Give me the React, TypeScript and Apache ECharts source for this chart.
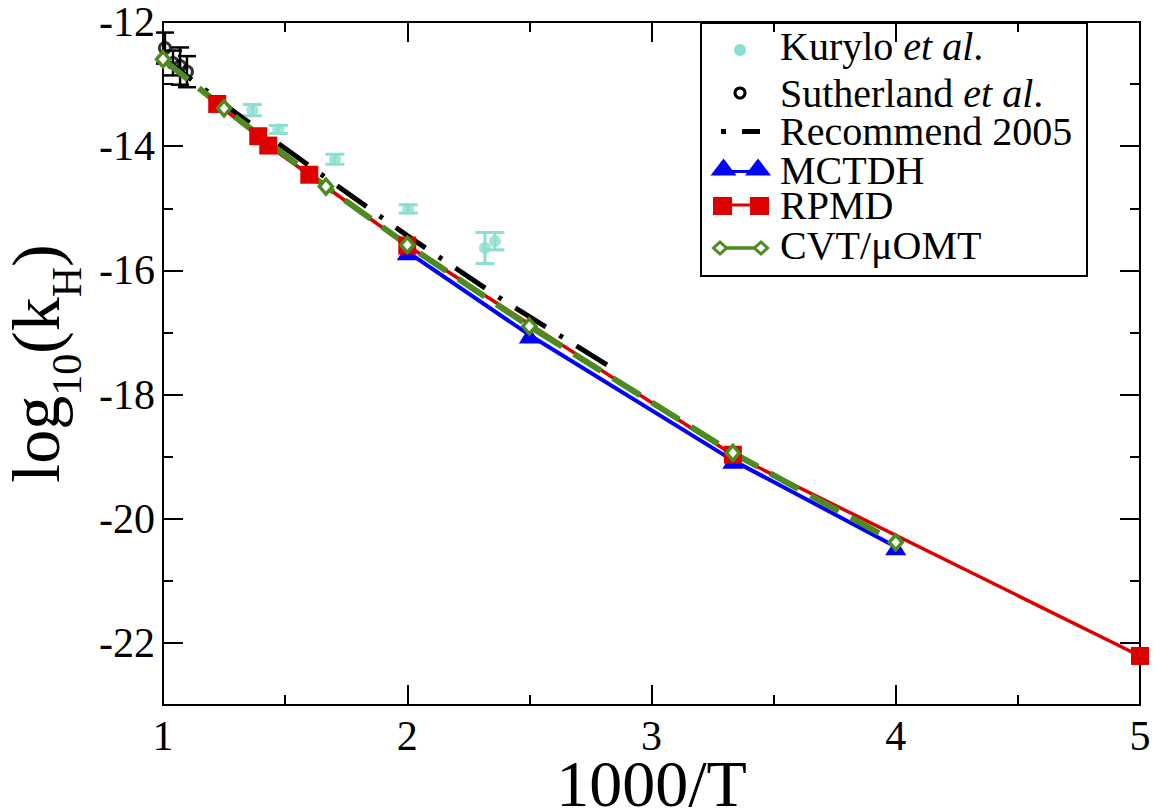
import React, { useEffect, useRef } from 'react';
import * as echarts from 'echarts';

const FONT = 'Liberation Serif, Times New Roman, serif';

// ---- data ----
const kuryloX = [1.366, 1.472, 1.704, 2.004, 2.318, 2.359];
const kuryloY = [-13.42, -13.73, -14.21, -15.01, -15.64, -15.53];
const kuryloErr = [0.09, 0.065, 0.08, 0.067, 0.25, 0.14];

const sutherlandX = [1.008, 1.041, 1.07, 1.098];
const sutherlandY = [-12.42, -12.66, -12.71, -12.8];
const sutherlandErr = [0.25, 0.2, 0.3, 0.25];

const recommendX = [1.0, 1.3, 1.6, 2.0, 2.4, 2.857];
const recommendY = [-12.58, -13.47, -14.32, -15.44, -16.5, -17.62];

const mctdhX = [2.0, 2.5, 3.333, 4.0];
const mctdhY = [-15.7, -17.04, -19.06, -20.45];

const rpmdX = [1.222, 1.39, 1.431, 1.599, 2.0, 3.333, 5.0];
const rpmdY = [-13.32, -13.84, -13.99, -14.46, -15.6, -18.97, -22.21];

const cvtX = [1.0, 1.25, 1.667, 2.0, 2.5, 3.333, 4.0];
const cvtY = [-12.6, -13.39, -14.65, -15.59, -16.9, -18.94, -20.38];

const yMajor = [-22, -20, -18, -16, -14, -12];
const yMinor = [-23, -21, -19, -17, -15, -13];

const KURYLO = '#8adfd0';
const BLUE = '#0000ff';
const RED = '#dd0000';
const GREEN = '#4b8b1f';

const zip = (xs: number[], ys: number[]) => xs.map((x, i) => [x, ys[i]]);

function errorSeries(name: string, xs: number[], ys: number[], errs: number[], color: string, capHalf: number, lw: number) {
  return {
    type: 'custom',
    name,
    silent: true,
    xAxisIndex: 0,
    yAxisIndex: 0,
    data: xs.map((x, i) => [x, ys[i] - errs[i], ys[i] + errs[i]]),
    encode: { x: 0, y: [1, 2] },
    renderItem: (params: any, api: any) => {
      const x = api.value(0);
      const p1 = api.coord([x, api.value(1)]);
      const p2 = api.coord([x, api.value(2)]);
      const style = { stroke: color, lineWidth: lw, fill: 'none' };
      return {
        type: 'group',
        children: [
          { type: 'line', shape: { x1: p1[0], y1: p1[1], x2: p2[0], y2: p2[1] }, style },
          { type: 'line', shape: { x1: p1[0] - capHalf, y1: p1[1], x2: p1[0] + capHalf, y2: p1[1] }, style },
          { type: 'line', shape: { x1: p2[0] - capHalf, y1: p2[1], x2: p2[0] + capHalf, y2: p2[1] }, style },
        ],
      };
    },
  };
}

const axisLineStyle = { color: '#000', width: 2 };

const etAlRich = {
  n: { fontSize: 40, lineHeight: 34, fontFamily: FONT, fill: '#000' },
  i: { fontSize: 40, lineHeight: 34, fontFamily: FONT, fontStyle: 'italic', fill: '#000' },
};

function legendText(x: number, y: number, text: string) {
  return {
    type: 'text',
    x,
    y,
    style: { text, verticalAlign: 'middle', align: 'left', rich: etAlRich },
  };
}

function buildOption() {
  const xBase = {
    type: 'value',
    min: 1,
    max: 5,
    interval: 1,
    axisLine: { show: true, onZero: false, lineStyle: axisLineStyle },
    axisTick: { show: true, inside: true, length: 20, lineStyle: axisLineStyle },
    minorTick: { show: true, splitNumber: 2, length: 10, lineStyle: axisLineStyle },
    splitLine: { show: false },
    minorSplitLine: { show: false },
  };
  const yBase = {
    type: 'value',
    min: -23,
    max: -12,
    axisLine: { show: true, onZero: false, lineStyle: axisLineStyle },
    splitLine: { show: false },
  };
  const gridBox = { left: 163, top: 22, right: 17, bottom: 105, containLabel: false, outerBoundsMode: 'none' };
  return {
    animation: false,
    backgroundColor: '#fff',
    textStyle: { fontFamily: FONT },
    grid: [{ ...gridBox }, { ...gridBox }],
    xAxis: [
      {
        ...xBase,
        gridIndex: 0,
        position: 'bottom',
        axisLabel: {
          show: true,
          fontSize: 42,
          fontFamily: FONT,
          color: '#000',
          margin: 10,
          hideOverlap: false,
        },
        name: '1000/T',
        nameLocation: 'middle',
        nameGap: 45,
        nameMoveOverlap: false,
        nameTextStyle: { fontSize: 66, fontFamily: FONT, color: '#000' },
      },
      { ...xBase, gridIndex: 0, position: 'top', axisLabel: { show: false } },
      { type: 'value', gridIndex: 1, min: 1, max: 5, show: false },
    ],
    yAxis: [
      {
        ...yBase,
        gridIndex: 0,
        position: 'left',
        axisTick: { show: true, inside: true, length: 20, lineStyle: axisLineStyle, customValues: yMajor },
        axisLabel: {
          show: true,
          fontSize: 42,
          fontFamily: FONT,
          color: '#000',
          margin: 8,
          customValues: yMajor,
        },
        name: '{n|log}{s|10}{n|(k}{s|H}{n|)}',
        nameLocation: 'middle',
        nameRotate: 90,
        nameGap: 105,
        nameMoveOverlap: false,
        nameTextStyle: {
          color: '#000',
          fontFamily: FONT,
          rich: {
            n: { fontSize: 68, lineHeight: 56, fontFamily: FONT, color: '#000', verticalAlign: 'top' },
            s: { fontSize: 42, lineHeight: 42, fontFamily: FONT, color: '#000', verticalAlign: 'top', padding: [44, 0, 0, 0] },
          },
        },
      },
      {
        ...yBase,
        gridIndex: 0,
        position: 'right',
        axisTick: { show: true, inside: true, length: 20, lineStyle: axisLineStyle, customValues: yMajor },
        axisLabel: { show: false },
      },
      {
        ...yBase,
        gridIndex: 1,
        position: 'left',
        axisTick: { show: true, inside: true, length: 10, lineStyle: axisLineStyle, customValues: yMinor },
        axisLabel: { show: false },
      },
      {
        ...yBase,
        gridIndex: 1,
        position: 'right',
        axisTick: { show: true, inside: true, length: 10, lineStyle: axisLineStyle, customValues: yMinor },
        axisLabel: { show: false },
      },
    ],
    series: [
      errorSeries('Sutherland err', sutherlandX, sutherlandY, sutherlandErr, '#000', 9, 2.5),
      {
        type: 'scatter',
        name: 'Sutherland et al.',
        xAxisIndex: 0,
        yAxisIndex: 0,
        data: zip(sutherlandX, sutherlandY),
        symbol: 'circle',
        symbolSize: 11,
        itemStyle: { color: 'transparent', borderColor: '#000', borderWidth: 3 },
      },
      errorSeries('Kurylo err', kuryloX, kuryloY, kuryloErr, KURYLO, 9.5, 3),
      {
        type: 'scatter',
        name: 'Kurylo et al.',
        xAxisIndex: 0,
        yAxisIndex: 0,
        data: zip(kuryloX, kuryloY),
        symbol: 'circle',
        symbolSize: 12,
        itemStyle: { color: KURYLO },
      },
      {
        type: 'line',
        name: 'MCTDH',
        xAxisIndex: 0,
        yAxisIndex: 0,
        data: zip(mctdhX, mctdhY),
        symbol: 'triangle',
        symbolSize: [21, 17],
        showSymbol: true,
        lineStyle: { color: BLUE, width: 4 },
        itemStyle: { color: BLUE },
      },
      {
        type: 'line',
        name: 'Recommend 2005',
        xAxisIndex: 0,
        yAxisIndex: 0,
        data: zip(recommendX, recommendY),
        showSymbol: false,
        symbol: 'none',
        lineStyle: { color: '#000', width: 5, type: [36, 16, 4, 16], cap: 'butt' },
      },
      {
        type: 'line',
        name: 'RPMD',
        xAxisIndex: 0,
        yAxisIndex: 0,
        data: zip(rpmdX, rpmdY),
        symbol: 'rect',
        symbolSize: 18,
        showSymbol: true,
        lineStyle: { color: RED, width: 3.5 },
        itemStyle: { color: RED },
      },
      {
        type: 'line',
        name: 'CVT/μOMT',
        xAxisIndex: 0,
        yAxisIndex: 0,
        data: zip(cvtX, cvtY),
        symbol: 'diamond',
        symbolSize: [13, 15],
        showSymbol: true,
        lineStyle: { color: GREEN, width: 6, type: [32, 14] },
        itemStyle: { color: '#fff', borderColor: GREEN, borderWidth: 3.5 },
      },
    ],
    graphic: [
      {
        type: 'group',
        z: 100,
        children: [
          { type: 'rect', shape: { x: 701, y: 23, width: 386, height: 253 }, style: { fill: '#fff', stroke: '#000', lineWidth: 2 } },
          // Kurylo
          { type: 'circle', shape: { cx: 740, cy: 50, r: 6 }, style: { fill: KURYLO } },
          legendText(780, 46.5, '{n|Kurylo }{i|et al}{n|.}'),
          // Sutherland
          { type: 'circle', shape: { cx: 740, cy: 93, r: 5 }, style: { fill: '#fff', stroke: '#000', lineWidth: 3 } },
          legendText(780, 93, '{n|Sutherland }{i|et al}{n|.}'),
          // Recommend
          { type: 'rect', shape: { x: 721, y: 129, width: 5, height: 5 }, style: { fill: '#000' } },
          { type: 'rect', shape: { x: 742, y: 129, width: 18, height: 5 }, style: { fill: '#000' } },
          legendText(780, 131.5, '{n|Recommend 2005}'),
          // MCTDH
          { type: 'line', shape: { x1: 720, y1: 171.5, x2: 760, y2: 171.5 }, style: { stroke: BLUE, lineWidth: 3 } },
          { type: 'polygon', shape: { points: [[710.5, 175.5], [736.5, 175.5], [723.5, 158.5]] }, style: { fill: BLUE } },
          { type: 'polygon', shape: { points: [[745, 175.5], [771, 175.5], [758, 158.5]] }, style: { fill: BLUE } },
          legendText(780, 170, '{n|MCTDH}'),
          // RPMD
          { type: 'line', shape: { x1: 720, y1: 205, x2: 760, y2: 205 }, style: { stroke: RED, lineWidth: 3 } },
          { type: 'rect', shape: { x: 713, y: 197, width: 19, height: 18 }, style: { fill: RED } },
          { type: 'rect', shape: { x: 750, y: 197, width: 19, height: 18 }, style: { fill: RED } },
          legendText(780, 205, '{n|RPMD}'),
          // CVT
          { type: 'line', shape: { x1: 720, y1: 248, x2: 761, y2: 248 }, style: { stroke: GREEN, lineWidth: 3.5 } },
          { type: 'polygon', shape: { points: [[720, 242], [726.5, 248], [720, 254], [713.5, 248]] }, style: { fill: '#fff', stroke: GREEN, lineWidth: 3 } },
          { type: 'polygon', shape: { points: [[761, 242], [767.5, 248], [761, 254], [754.5, 248]] }, style: { fill: '#fff', stroke: GREEN, lineWidth: 3 } },
          legendText(780, 245, '{n|CVT/μOMT}'),
        ],
      },
    ],
  };
}

export default function App() {
  const ref = useRef<HTMLDivElement>(null);
  useEffect(() => {
    const chart = echarts.init(ref.current as HTMLDivElement, null, { renderer: 'svg' });
    chart.setOption(buildOption() as any);
    return () => chart.dispose();
  }, []);
  return (
    <div
      ref={ref}
      style={{ position: 'absolute', left: 0, top: 0, width: 1157, height: 810, background: '#fff' }}
    />
  );
}
